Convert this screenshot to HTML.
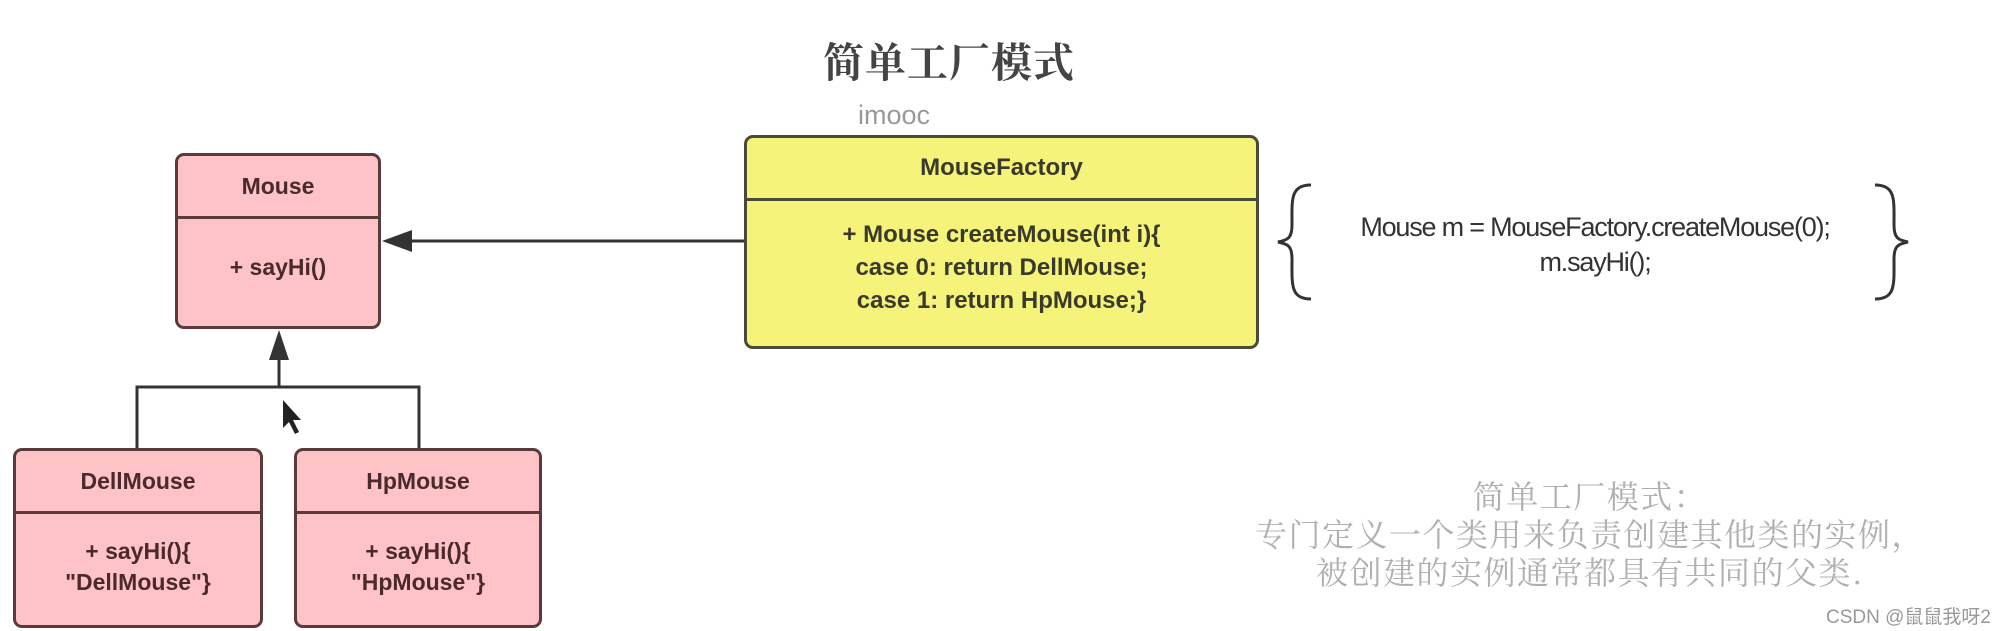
<!DOCTYPE html>
<html><head><meta charset="utf-8"><style>
html,body{margin:0;padding:0;background:#fff;}
body{width:2000px;height:631px;position:relative;overflow:hidden;font-family:"Liberation Sans","Noto Sans CJK SC",sans-serif;}
.box{position:absolute;box-sizing:border-box;border:3px solid #5a3a3c;border-radius:9px;background:#fdc3c7;color:#4a2a2c;font-weight:bold;text-align:center;}
.hd{position:absolute;left:0;right:0;border-bottom:3px solid #5a3a3c;display:flex;align-items:center;justify-content:center;font-size:23px;}
.bd{position:absolute;left:0;right:0;bottom:0;display:flex;flex-direction:column;align-items:center;justify-content:center;font-size:23px;line-height:31px;}
.t{position:absolute;white-space:nowrap;}
</style></head><body>
<div class="t" style="left:823px;top:30px;font-size:41px;color:#444;font-weight:bold;font-family:'Noto Serif CJK SC',serif;letter-spacing:1px;">简单工厂模式</div>
<div class="t" style="left:858px;top:100px;font-size:27px;color:#999;">imooc</div>

<div class="box" style="left:175px;top:153px;width:206px;height:176px;">
 <div class="hd" style="top:0;height:60px;">Mouse</div>
 <div class="bd" style="top:63px;padding-bottom:10px;">+ sayHi()</div>
</div>

<div class="box" style="left:13px;top:448px;width:250px;height:180px;">
 <div class="hd" style="top:0;height:60px;">DellMouse</div>
 <div class="bd" style="top:63px;padding-bottom:6px;"><div>+ sayHi(){</div><div>"DellMouse"}</div></div>
</div>
<div class="box" style="left:294px;top:448px;width:248px;height:180px;">
 <div class="hd" style="top:0;height:60px;">HpMouse</div>
 <div class="bd" style="top:63px;padding-bottom:6px;"><div>+ sayHi(){</div><div>"HpMouse"}</div></div>
</div>

<div class="box" style="left:744px;top:135px;width:515px;height:214px;background:#f6f37a;border-color:#4a4a3a;color:#3a3a2a;">
 <div class="hd" style="top:0;height:60px;border-color:#4a4a3a;font-size:24px;">MouseFactory</div>
 <div class="bd" style="top:63px;font-size:24px;line-height:33px;padding-bottom:12px;"><div>+ Mouse createMouse(int i){</div><div>case 0: return DellMouse;</div><div>case 1: return HpMouse;}</div></div>
</div>

<svg width="2000" height="631" style="position:absolute;left:0;top:0;" xmlns="http://www.w3.org/2000/svg">
 <g stroke="#333" stroke-width="3" fill="none">
  <line x1="405" y1="241" x2="744" y2="241"/>
  <line x1="279" y1="355" x2="279" y2="387"/>
  <polyline points="137,448 137,387 419,387 419,448"/>
  <path d="M1311,185 C1290,185 1292,200 1292,225 C1292,238 1288,240 1278,242 C1288,244 1292,246 1292,259 C1292,284 1290,299 1311,299"/>
  <path d="M1875,185 C1896,185 1894,200 1894,225 C1894,238 1898,240 1908,242 C1898,244 1894,246 1894,259 C1894,284 1896,299 1875,299"/>
 </g>
 <polygon points="382,241 412,230 412,252" fill="#333"/>
 <polygon points="279,330 269,360 289,360" fill="#333"/>
 <polygon points="283,400 283,428 289,422 295,434 299,432 293,420 301,420" fill="#222"/>
</svg>

<div class="t" style="left:1330px;top:210px;width:530px;text-align:center;font-size:27px;color:#333;letter-spacing:-1.2px;line-height:35px;">Mouse m = MouseFactory.createMouse(0);<br>m.sayHi();</div>

<div class="t" style="left:1230px;top:476px;width:720px;text-align:center;font-size:32px;line-height:38px;letter-spacing:1.5px;color:#b0b0b0;font-family:'Noto Serif CJK SC',serif;">简单工厂模式：<br>专门定义一个类用来负责创建其他类的实例，<br>被创建的实例通常都具有共同的父类.</div>

<div class="t" style="left:1826px;top:602px;font-size:19px;color:#999;">CSDN @鼠鼠我呀2</div>
</body></html>
